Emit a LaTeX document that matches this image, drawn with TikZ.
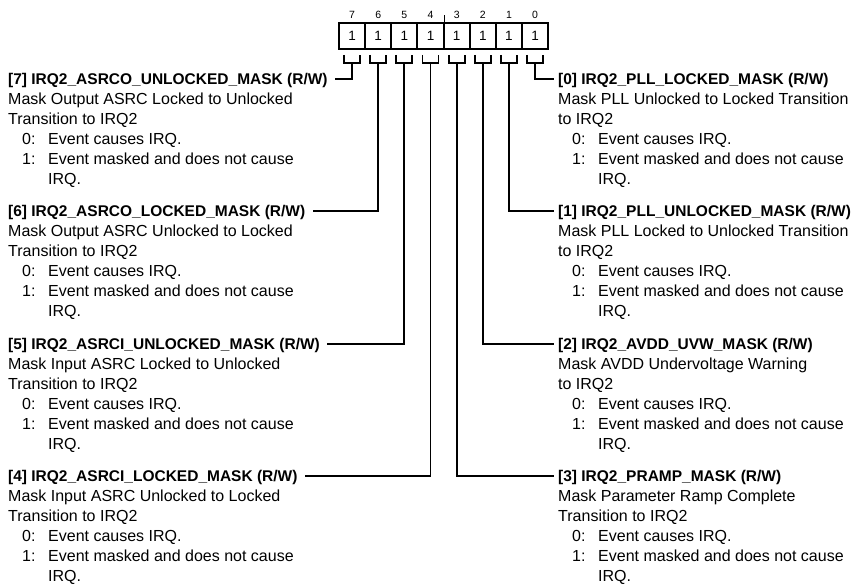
\documentclass[tikz,border=0pt]{standalone}
\usepackage{fontspec}
\setmainfont{Liberation Sans}
\newcommand{\regfield}[6]{%
  \node[ftitle] (#1) at (#2,#3) {#4};
  \node[fbody] (#1a) at (#2,#3+20) {#5};
  \node[fbody] (#1b) at (#2,#3+40) {#6};
  \node[fbody] (#1c) at (#2+14,#3+60) {0:};
  \node[fbody] (#1d) at (#2+40,#3+60) {Event causes IRQ.};
  \node[fbody] (#1e) at (#2+14,#3+80) {1:};
  \node[fbody] (#1f) at (#2+40,#3+80) {Event masked and does not cause};
  \node[fbody] (#1g) at (#2+40,#3+100) {IRQ.};
}
\begin{document}
\begin{tikzpicture}[x=1pt,y=-1pt,
  cell/.style={draw, line width=2pt, minimum width=26.15pt, minimum height=26pt, inner sep=0pt, font=\fontsize{13.5}{13.5}\selectfont},
  bitnum/.style={inner sep=0pt, font=\fontsize{10.5}{10.5}\selectfont},
  ftitle/.style={anchor=base west, inner sep=0pt, text height=11pt, text depth=0pt, font=\fontsize{15.5}{18}\selectfont\bfseries},
  fbody/.style={anchor=base west, inner sep=0pt, font=\fontsize{16}{18}\selectfont},
  wire/.style={line width=1.9pt}]
\useasboundingbox (0,0) rectangle (857,586);
% register cells
\foreach \i in {0,...,7} {
  \pgfmathtruncatemacro\b{7-\i}
  \pgfmathsetmacro\cx{339+26.15*(\i+0.5)}
  \node[cell] (c\b) at (\cx,36) {1};
  \node[bitnum] (n\b) at (\cx,15) {\b};
  \draw[wire] (\cx-8,55) -- (\cx-8,63) -- (\cx+8,63) -- (\cx+8,55);
  \coordinate (s\b) at (\cx,63);
}
% nibble tick
\coordinate (tk) at (c4.north east);
\draw[line width=1.3pt] (tk) -- ++(0,-7);
% field descriptions
\regfield{t7}{8}{84.5}{[7] IRQ2\_ASRCO\_UNLOCKED\_MASK (R/W)}{Mask Output ASRC Locked to Unlocked}{Transition to IRQ2}
\regfield{t6}{8}{216.8}{[6] IRQ2\_ASRCO\_LOCKED\_MASK (R/W)}{Mask Output ASRC Unlocked to Locked}{Transition to IRQ2}
\regfield{t5}{8}{349.1}{[5] IRQ2\_ASRCI\_UNLOCKED\_MASK (R/W)}{Mask Input ASRC Locked to Unlocked}{Transition to IRQ2}
\regfield{t4}{8}{481.4}{[4] IRQ2\_ASRCI\_LOCKED\_MASK (R/W)}{Mask Input ASRC Unlocked to Locked}{Transition to IRQ2}
\regfield{t0}{558}{84.5}{[0] IRQ2\_PLL\_LOCKED\_MASK (R/W)}{Mask PLL Unlocked to Locked Transition}{to IRQ2}
\regfield{t1}{558}{216.8}{[1] IRQ2\_PLL\_UNLOCKED\_MASK (R/W)}{Mask PLL Locked to Unlocked Transition}{to IRQ2}
\regfield{t2}{558}{349.1}{[2] IRQ2\_AVDD\_UVW\_MASK (R/W)}{Mask AVDD Undervoltage Warning}{to IRQ2}
\regfield{t3}{558}{481.4}{[3] IRQ2\_PRAMP\_MASK (R/W)}{Mask Parameter Ramp Complete}{Transition to IRQ2}
% connectors
\foreach \b in {7,6,5,4} { \draw[wire] (s\b) |- ([xshift=7pt]t\b.east); }
\foreach \b in {0,1,2,3} { \draw[wire] (s\b) |- ([xshift=-4pt]t\b.west); }
\end{tikzpicture}
\end{document}
